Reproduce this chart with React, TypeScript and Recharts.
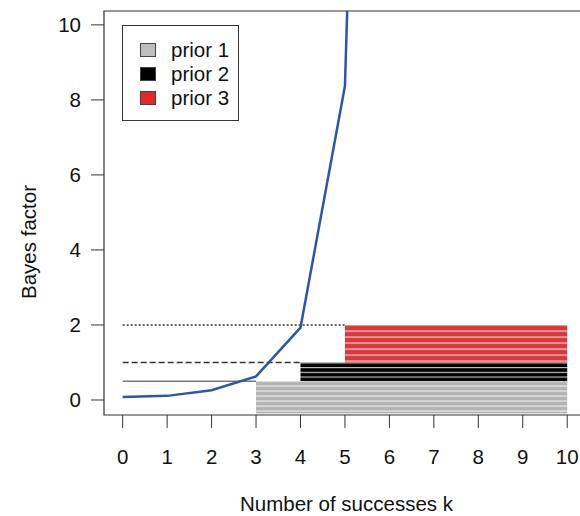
import React from 'react';
import {
  ComposedChart,
  Line,
  XAxis,
  YAxis,
  ReferenceArea,
  ReferenceLine,
} from 'recharts';

// Blue curve: Bayes factor per number of successes k
const kValues = [0, 1, 2, 3, 4, 5, 6, 7, 8, 9, 10];
const bayesFactor = [0.08, 0.11, 0.26, 0.63, 1.93, 8.37, 48, 330, 2500, 20000, 170000];

// Priors: thresholds, start k, colours
const priorNames = ['prior 1', 'prior 2', 'prior 3'];
const priorStart = [3, 4, 5];
const priorLow = [-0.36, 0.5, 1];
const priorHigh = [0.5, 1, 2];
const priorEnd = [10, 10, 10];
const priorColors = ['#b3b3b3', '#000000', '#d5393d'];
const legendColors = ['#bebebe', '#000000', '#e02a2a'];
const stripeSpacing = [5, 4.7, 6];
const lineDash = [undefined, '6 3', '2 2'];
const lineColors = ['#777777', '#333333', '#333333'];

const xTicks = [0, 1, 2, 3, 4, 5, 6, 7, 8, 9, 10];
const yTicks = [0, 2, 4, 6, 8, 10];

const data = kValues.map((k, i) => ({ k, bf: bayesFactor[i] }));

const FONT = 'Liberation Sans, Arial, sans-serif';
const FS = 20.5;

const LegendBox = () => (
  <div
    style={{
      position: 'absolute',
      left: 122,
      top: 25,
      width: 117,
      height: 96,
      border: '1px solid #333',
      boxSizing: 'border-box',
      background: '#fff',
      fontFamily: FONT,
      fontSize: FS,
      color: '#111',
      paddingTop: 12,
    }}
  >
    {priorNames.map((n, i) => (
      <div key={n} style={{ display: 'flex', alignItems: 'center', height: 24 }}>
        <div
          style={{
            width: 16,
            height: 14,
            marginLeft: 17,
            marginRight: 15,
            background: legendColors[i],
            border: '1px solid #444',
            boxSizing: 'border-box',
          }}
        />
        <span style={{ lineHeight: '24px' }}>{n}</span>
      </div>
    ))}
  </div>
);

const YTitle = () => {
  const cx = 28;
  const cy = 242;
  return (
    <text
      x={cx}
      y={cy}
      transform={`rotate(-90 ${cx} ${cy})`}
      textAnchor="middle"
      dominantBaseline="central"
      fontFamily={FONT}
      fontSize={FS}
      fill="#111"
    >
      Bayes factor
    </text>
  );
};

export default function App() {
  return (
    <div style={{ position: 'absolute', left: 0, top: 0, width: 580, height: 516, overflow: 'hidden', background: '#fff' }}>
      <ComposedChart
        width={600}
        height={516}
        data={data}
        margin={{ top: 11, right: 15, bottom: 0, left: 0 }}
      >
        <defs>
          {priorColors.map((c, i) => (
            <pattern
              key={i}
              id={`stripe${i}`}
              patternUnits="userSpaceOnUse"
              width={20}
              height={stripeSpacing[i]}
              y={0.5}
            >
              <rect x={0} y={0} width={20} height={stripeSpacing[i]} fill={c} />
              <rect x={0} y={0} width={20} height={1.1} fill="#ffffff" fillOpacity={0.8} />
            </pattern>
          ))}
        </defs>
        <XAxis
          dataKey="k"
          type="number"
          domain={[-0.42, 10.4]}
          ticks={xTicks}
          allowDataOverflow
          height={101}
          axisLine={false}
          tickLine={{ stroke: '#333', strokeWidth: 1 }}
          tickSize={13}
          tickMargin={21}
          tick={{ fill: '#111', fontSize: FS, fontFamily: FONT }}
          label={{
            value: 'Number of successes k',
            position: 'insideBottom',
            offset: 5,
            dx: 2,
            fill: '#111',
            fontSize: FS,
            fontFamily: FONT,
          }}
        />
        <YAxis
          type="number"
          domain={[-0.4, 10.37]}
          ticks={yTicks}
          allowDataOverflow
          width={104}
          axisLine={false}
          tickLine={{ stroke: '#333', strokeWidth: 1 }}
          tickSize={13}
          tickMargin={10}
          tick={{ fill: '#111', fontSize: FS, fontFamily: FONT }}
          label={{ content: YTitle }}
        />
        {priorNames.map((n, i) => (
          <ReferenceArea
            key={`area${i}`}
            x1={priorStart[i]}
            x2={priorEnd[i]}
            y1={priorLow[i]}
            y2={priorHigh[i]}
            fill={`url(#stripe${i})`}
            fillOpacity={1}
            stroke="none"
          />
        ))}
        {priorNames.map((n, i) => (
          <ReferenceLine
            key={`line${i}`}
            segment={[
              { x: 0, y: priorHigh[i] },
              { x: priorStart[i], y: priorHigh[i] },
            ]}
            stroke={lineColors[i]}
            strokeWidth={1.5}
            strokeDasharray={lineDash[i]}
          />
        ))}
        <ReferenceArea
          x1={-0.42}
          x2={10.4}
          y1={-0.4}
          y2={10.37}
          fill="none"
          stroke="#333"
          strokeWidth={1.2}
        />
        <Line
          dataKey="bf"
          type="linear"
          stroke="#2e56a6"
          strokeWidth={2.5}
          dot={false}
          isAnimationActive={false}
        />
      </ComposedChart>
      <LegendBox />
    </div>
  );
}
